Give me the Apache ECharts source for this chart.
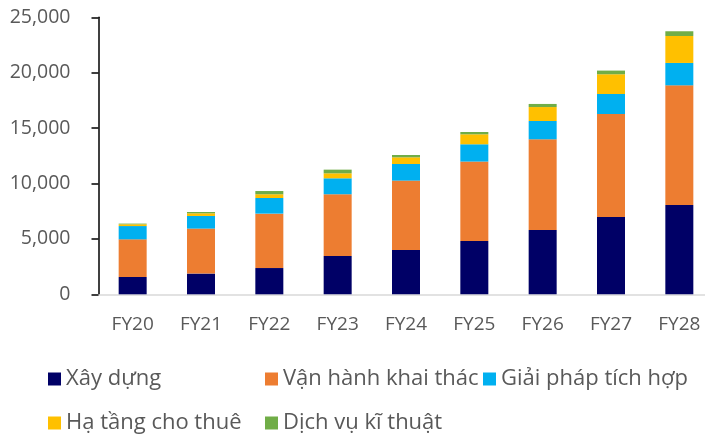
<!DOCTYPE html>
<html>
<head>
<meta charset="utf-8">
<script src="https://cdn.jsdelivr.net/npm/echarts@6/dist/echarts.min.js"></script>
<style>
  html, body { margin: 0; padding: 0; background: #fff; }
  #chart { width: 705px; height: 436px; }
</style>
</head>
<body>
<div id="chart"></div>
<script>
// du lieu doc tu hinh
var years = ['FY20', 'FY21', 'FY22', 'FY23', 'FY24', 'FY25', 'FY26', 'FY27', 'FY28'];
var xayDung = [1560, 1870, 2370, 3460, 4000, 4810, 5800, 6980, 8060];
var vanHanh = [3400, 4060, 4910, 5570, 6260, 7170, 8190, 9290, 10800];
var giaiPhap = [1200, 1140, 1410, 1440, 1500, 1560, 1650, 1810, 2020];
var haTang = [160, 240, 340, 450, 600, 900, 1260, 1780, 2430];
var dichVu = [60, 120, 290, 330, 210, 210, 280, 330, 430];
var yTicks = [0, 5000, 10000, 15000, 20000, 25000];

var names = ['Xây dựng', 'Vận hành khai thác', 'Giải pháp tích hợp', 'Hạ tầng cho thuê', 'Dịch vụ kĩ thuật'];
var colors = ['#000066', '#ED7D31', '#00B0F0', '#FFC000', '#70AD47'];
var values = [xayDung, vanHanh, giaiPhap, haTang, dichVu];
var legendPos = [[48, 368], [265, 368], [483, 368], [48, 412], [265, 412]];

var font = '"Open Sans", "Noto Sans", sans-serif';

var chart = echarts.init(document.getElementById('chart'));

var option = {
    animation: false,
    backgroundColor: '#fff',
    color: colors,
    grid: { left: 98.5, top: 17.3, width: 615, height: 277, outerBoundsMode: 'none', containLabel: false },
    legend: names.map(function (n, i) {
        return {
            data: [n],
            left: legendPos[i][0],
            top: legendPos[i][1],
            padding: 0,
            icon: 'rect',
            itemWidth: 13,
            itemHeight: 13,
            itemGap: 0,
            textStyle: { fontFamily: font, fontSize: 22, color: '#595959' }
        };
    }),
    xAxis: {
        type: 'category',
        data: years,
        axisLine: { lineStyle: { color: '#d9d9d9', width: 1.5 } },
        axisTick: { show: false },
        axisLabel: { fontFamily: font, fontSize: 19, color: '#595959', margin: 21 }
    },
    yAxis: {
        type: 'value',
        min: yTicks[0],
        max: yTicks[yTicks.length - 1],
        interval: 5000,
        splitLine: { show: false },
        axisLine: { show: true, lineStyle: { color: '#000', width: 1.5 } },
        axisTick: { show: true, inside: false, length: 7, lineStyle: { color: '#000', width: 1.5 } },
        axisLabel: {
            fontFamily: font, fontSize: 19.5, color: '#595959', margin: 28,
            formatter: function (v) { return v.toLocaleString('en-US'); }
        }
    },
    series: names.map(function (n, i) {
        return {
            name: n,
            type: 'bar',
            stack: 'total',
            barWidth: 28,
            data: values[i],
            itemStyle: { color: colors[i] }
        };
    })
};

chart.setOption(option);
</script>
</body>
</html>
